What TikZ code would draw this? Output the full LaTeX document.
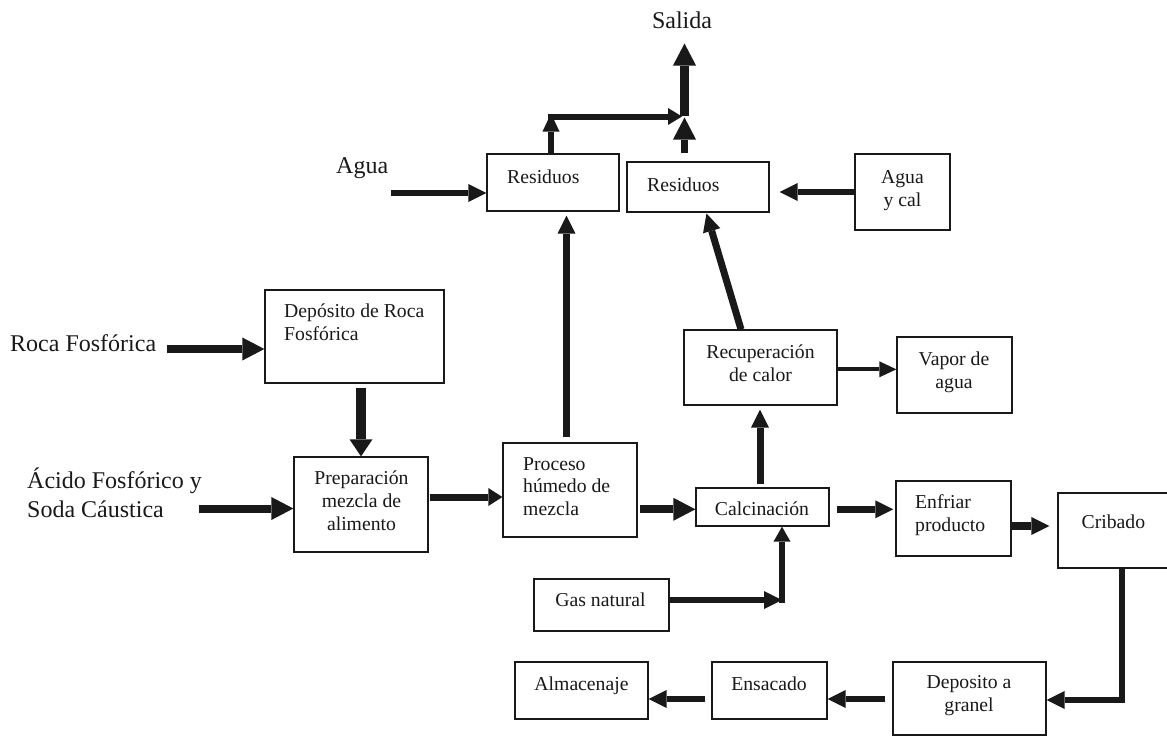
\documentclass[tikz,border=0pt]{standalone}
\usepackage{fontspec}
\setmainfont{Liberation Serif}
\usetikzlibrary{arrows.meta}
\begin{document}
\begin{tikzpicture}[x=1pt,y=-1pt,
  box/.style={draw=black!90, line width=1.3pt, inner sep=0pt, rectangle},
  btxt/.style={font=\fontsize{19.7}{23}\selectfont, inner sep=0pt, text=black!90},
  ltxt/.style={font=\fontsize{24}{28.5}\selectfont, inner sep=0pt, text=black!90},
  flow/.style={draw=black!90, line width=7pt, -{Triangle[length=18pt,width=18pt,line width=0pt]}},
  bigflow/.style={draw=black!90, line width=8pt, -{Triangle[length=22pt,width=23pt,line width=0pt]}},
  wideflow/.style={draw=black!90, line width=10pt, -{Triangle[length=17pt,width=23pt,line width=0pt]}},
  shortflow/.style={draw=black!90, line width=7pt, -{Triangle[length=14pt,width=18pt,line width=0pt]}},
  thinflow/.style={draw=black!90, line width=4pt, -{Triangle[length=17pt,width=16pt,line width=0pt]}},
]
\useasboundingbox[fill=white] (0,0) rectangle (1167,736);

% boxes
\node[box, minimum width=132pt, minimum height=57pt] (res1) at (553,182.5) {};
\node[box, minimum width=142pt, minimum height=50pt] (res2) at (698,187) {};
\node[box, minimum width=95pt, minimum height=76pt] (aguacal) at (902.5,192) {};
\node[box, minimum width=153pt, minimum height=75pt] (recup) at (760.5,367.5) {};
\node[box, minimum width=115pt, minimum height=76pt] (vapor) at (954.5,375) {};
\node[box, minimum width=179pt, minimum height=93pt] (depo) at (354.5,336.5) {};
\node[box, minimum width=134pt, minimum height=95pt] (prep) at (361,504.5) {};
\node[box, minimum width=134pt, minimum height=94pt] (proceso) at (570,490) {};
\node[box, minimum width=133pt, minimum height=38pt] (calc) at (762.5,507) {};
\node[box, minimum width=135pt, minimum height=52pt] (gas) at (601.5,605) {};
\node[box, minimum width=115pt, minimum height=75pt] (enfriar) at (953.5,518.5) {};
\node[box, minimum width=112pt, minimum height=75pt] (cribado) at (1114,530.5) {};
\node[box, minimum width=153pt, minimum height=73pt] (granel) at (969.5,698.5) {};
\node[box, minimum width=115pt, minimum height=57pt] (ensacado) at (769.5,690.5) {};
\node[box, minimum width=133pt, minimum height=57pt] (almacen) at (581.5,690.5) {};

% box texts (multi-line nodes anchored at the baseline of their last line)
\node[btxt, anchor=base west] (res1t) at (507,183) {Residuos};
\node[btxt, anchor=base west] (res2t) at (647,191) {Residuos};
\node[btxt, anchor=base, align=center] (aguacalt) at (902.5,206.5) {Agua\\y cal};
\node[btxt, anchor=base, align=center] (recupt) at (760.5,381) {Recuperación\\de calor};
\node[btxt, anchor=base, align=center] (vaport) at (954,388) {Vapor de\\agua};
\node[btxt, anchor=base west, align=left] (depot) at (284,340) {Depósito de Roca\\Fosfórica};
\node[btxt, anchor=base, align=center, font=\fontsize{19.7}{22.7}\selectfont] (prept) at (361.5,530) {Preparación\\mezcla de\\alimento};
\node[btxt, anchor=base west, align=left, font=\fontsize{19.7}{22.6}\selectfont] (procesot) at (523,515.5) {Proceso\\húmedo de\\mezcla};
\node[btxt, anchor=base] (calct) at (762,515) {Calcinación};
\node[btxt, anchor=base] (gast) at (600.5,606.5) {Gas natural};
\node[btxt, anchor=base west, align=left] (enfriart) at (915,531.5) {Enfriar\\producto};
\node[btxt, anchor=base west] (cribadot) at (1081.5,528.5) {Cribado};
\node[btxt, anchor=base, align=center] (granelt) at (969,711.5) {Deposito a\\granel};
\node[btxt, anchor=base] (ensacadot) at (769,690) {Ensacado};
\node[btxt, anchor=base] (almacent) at (581.5,690) {Almacenaje};

% outer labels
\node[ltxt, anchor=base] (salida) at (682,28) {Salida};
\node[ltxt, anchor=base west] (agua) at (336,173) {Agua};
\node[ltxt, anchor=base west] (roca) at (10,351) {Roca Fosfórica};
\node[ltxt, anchor=base west, align=left] (acido) at (27,517) {Ácido Fosfórico y\\Soda Cáustica};

% helper coordinates
\coordinate (aguaS) at (391,193);
\coordinate (rocaS) at (167,349);
\coordinate (acidoS) at (199,508.5);
\coordinate (y5) at (0,497);
\coordinate (x6) at (566.5,0);
\coordinate (y7) at (0,509.3);
\coordinate (x8) at (760,0);
\coordinate (y9) at (0,509.3);
\coordinate (y10) at (0,526);
\coordinate (gasJ) at (782,600);
\coordinate (cribJ) at (1122,700);
\coordinate (y13) at (0,699);
\coordinate (xd1) at (741,0);
\coordinate (tipD) at (706.5,213.5);
\coordinate (y16) at (0,192);
\coordinate (y17) at (0,369.3);
\coordinate (x18) at (551,0);
\coordinate (j18) at (551,116.5);
\coordinate (jS) at (684.5,116.5);
\coordinate (jH) at (682,116.5);
\coordinate (salidaT) at (684.5,43.5);

% connectors
\draw[flow, line width=6pt] (aguaS) -- (aguaS -| res1.west);
\draw[bigflow] (rocaS) -- (rocaS -| depo.west);
\draw[wideflow, shorten <=4pt] (depo.south -| prep.north) -- (prep.north);
\draw[bigflow] (acidoS) -- (acidoS -| prep.west);
\draw[shortflow, shorten <=1pt] (prep.east |- y5) -- (proceso.west |- y5);
\draw[flow, shorten <=5pt, shorten >=4pt] (proceso.north -| x6) -- (res1.south -| x6);
\draw[bigflow, shorten <=2pt] (proceso.east |- y7) -- (calc.west |- y7);
\draw[flow, shorten <=3pt, shorten >=4pt] (calc.north -| x8) -- (recup.south -| x8);
\draw[flow, shorten <=7pt, shorten >=2pt] (calc.east |- y9) -- (enfriar.west |- y9);
\draw[flow, line width=8pt, shorten >=8pt] (enfriar.east |- y10) -- (cribado.west |- y10);
\draw[flow, line width=6.5pt] (gas.east |- gasJ) -- (gasJ);
\draw[flow, line width=6.5pt, -{Triangle[length=15pt,width=17pt,line width=0pt]}] ([yshift=-3pt]gasJ) -- (calc.south -| gasJ);
\draw[flow, line width=6pt] (cribado.south -| cribJ) -- (cribJ) -- (granel.east |- cribJ);
\draw[flow, line width=6.5pt, shorten <=7pt] (granel.west |- y13) -- (ensacado.east |- y13);
\draw[flow, line width=6.5pt, shorten <=6pt] (ensacado.west |- y13) -- (almacen.east |- y13);
\draw[flow, line width=7pt] (recup.north -| xd1) -- (tipD);
\draw[flow, line width=6.5pt, shorten >=10pt] (aguacal.west |- y16) -- (res2.east |- y16);
\draw[thinflow] (recup.east |- y17) -- (vapor.west |- y17);
\draw[flow, line width=6pt, -{Triangle[length=18pt,width=17pt,line width=0pt]}] (res1.north -| x18) -- ([yshift=3pt]j18);
\draw[flow, line width=6pt, -{Triangle[length=14pt,width=17pt,line width=0pt]}] ([xshift=-3pt]j18) -- (jH);
\draw[bigflow, line width=7.5pt, shorten <=8pt] (res2.north -| jS) -- ([yshift=-1pt]jS);
\draw[bigflow, line width=9pt] ([yshift=1pt]jS) -- (salidaT);
\end{tikzpicture}
\end{document}
